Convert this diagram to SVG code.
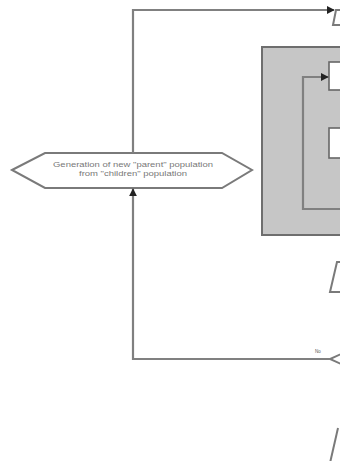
<svg xmlns="http://www.w3.org/2000/svg" width="340" height="461" viewBox="0 0 340 461">
<defs>
<style>
.ln{fill:none;stroke:#808080;stroke-width:2.2}
.sh{fill:#fff;stroke:#7a7a7a;stroke-width:2}
.lbl{font-family:"Liberation Sans",Arial,sans-serif;font-size:6.5px;fill:#777;text-anchor:middle}
</style>
<marker id="ah" viewBox="0 0 10 10" refX="9" refY="5" markerWidth="3.6" markerHeight="3.6" orient="auto">
<path d="M0,0 L10,5 L0,10 z" fill="#222"/>
</marker>
</defs>
<rect width="340" height="461" fill="#fff"/>
<g id="loopbox">
<rect x="262" y="47" width="84" height="188" fill="#c6c6c6" stroke="#6e6e6e" stroke-width="2"/>
</g>
<g id="box1"><rect x="329" y="62" width="20" height="28" fill="#fff" stroke="#666" stroke-width="1.6"/></g>
<g id="box2"><rect x="329" y="128" width="20" height="30" fill="#fff" stroke="#666" stroke-width="1.6"/></g>
<g id="topshape"><path class="sh" d="M345,10 L336,10 L333,25 L345,25"/></g>
<g id="midshape"><path class="sh" d="M345,262 L337,262 L330,292 L345,292"/></g>
<g id="decision"><path class="sh" d="M350,350 L330,359 L350,368"/></g>
<g id="botshape"><path class="sh" d="M338,428 L330,463"/></g>
<g id="hexagon">
<polygon class="sh" points="12,170 45,153 222,153 252,170 222,188 45,188"/>
<text class="lbl" x="133" y="167" textLength="160" lengthAdjust="spacingAndGlyphs">Generation of new "parent" population</text>
<text class="lbl" x="133" y="176" textLength="108" lengthAdjust="spacingAndGlyphs">from "children" population</text>
</g>
<g id="connectors">
<path class="ln" d="M133,153 V10 H334" marker-end="url(#ah)"/>
<path class="ln" d="M330,359 H133 V189" marker-end="url(#ah)"/>
<path class="ln" d="M340,209 H303 V77 H328" marker-end="url(#ah)"/>
<text x="318" y="353" style="font-family:'Liberation Sans',Arial,sans-serif;font-size:4.5px;fill:#555" text-anchor="middle">No</text>
</g>
</svg>
